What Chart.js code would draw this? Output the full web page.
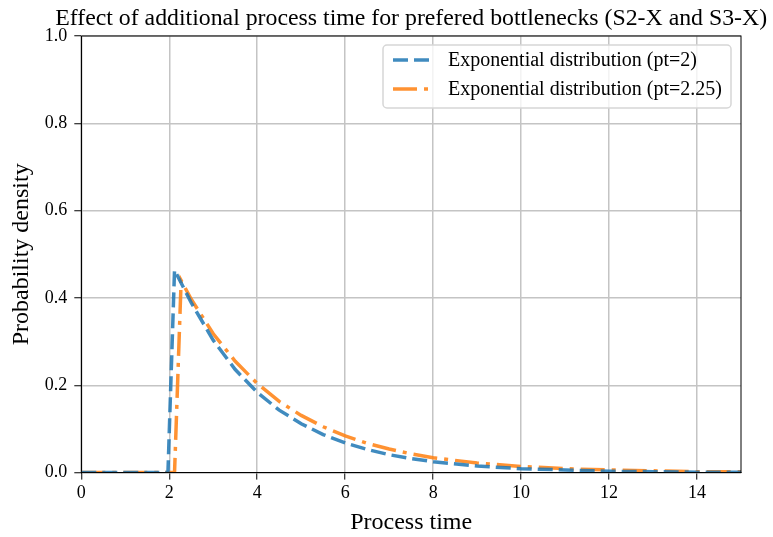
<!DOCTYPE html>
<html>
<head>
<meta charset="utf-8">
<script src="https://cdn.jsdelivr.net/npm/chart.js@4"></script>
<style>
  html, body { margin: 0; padding: 0; background: #fff; }
  #wrap { width: 773px; height: 537px; position: relative; }
</style>
</head>
<body>
<div id="wrap"><canvas id="myChart"></canvas></div>
<script>
// values
const titleText = 'Effect of additional process time for prefered bottlenecks (S2-X and S3-X)';
const seriesNames = ['Exponential distribution (pt=2)', 'Exponential distribution (pt=2.25)'];

const xPt2 = [0, 1.97, 2.12, 2.5, 3, 3.5, 4, 4.5, 5, 5.5, 6, 6.5, 7, 7.5, 8, 9, 10, 11, 12, 13, 14, 15];
const yPt2 = [0, 0, 0.464, 0.389, 0.303, 0.236, 0.184, 0.143, 0.112, 0.087, 0.068, 0.053, 0.041, 0.032, 0.025, 0.015, 0.009, 0.006, 0.003, 0.002, 0.001, 0.001];

const xPt225 = [0, 2.12, 2.27, 2.5, 3, 3.5, 4, 4.5, 5, 5.5, 6, 6.5, 7, 7.5, 8, 9, 10, 11, 12, 13, 14, 15];
const yPt225 = [0, 0, 0.440, 0.397, 0.318, 0.255, 0.204, 0.163, 0.131, 0.105, 0.084, 0.067, 0.054, 0.043, 0.034, 0.022, 0.014, 0.009, 0.006, 0.004, 0.002, 0.002];

const xTicks = [0, 2, 4, 6, 8, 10, 12, 14];

const ctx = document.getElementById('myChart').getContext('2d');
const serif = "'Liberation Serif', 'DejaVu Serif', serif";
const gridColor = '#c4c4c4';

function toPoints(xs, ys) {
    return xs.map((x, i) => ({ x: x, y: ys[i] }));
}

// title centred over the plot area, frame and legend box inside the plot
const decorations = {
    id: 'decorations',
    afterDraw(chart) {
        const a = chart.chartArea;
        const c = chart.ctx;
        c.save();
        // frame
        c.strokeStyle = '#000';
        c.lineWidth = 1;
        c.strokeRect(a.left, a.top, a.right - a.left, a.bottom - a.top);
        // title
        c.fillStyle = '#000';
        c.font = '23.8px ' + serif;
        c.textAlign = 'center';
        c.textBaseline = 'alphabetic';
        c.fillText(titleText, (a.left + a.right) / 2, 25);
        // legend
        const bx = 383, by = 45, bw = 348, bh = 63;
        c.fillStyle = 'rgba(255,255,255,0.8)';
        c.strokeStyle = '#d6d6d6';
        c.lineWidth = 1.5;
        c.beginPath();
        c.roundRect(bx, by, bw, bh, 4);
        c.fill();
        c.stroke();
        chart.data.datasets.forEach((ds, i) => {
            const yy = by + 15 + i * 29;
            c.strokeStyle = ds.borderColor;
            c.lineWidth = ds.borderWidth;
            c.setLineDash(ds.borderDash);
            c.beginPath();
            c.moveTo(bx + 10, yy);
            c.lineTo(bx + 46, yy);
            c.stroke();
            c.setLineDash([]);
            c.fillStyle = '#000';
            c.font = '20px ' + serif;
            c.textAlign = 'left';
            c.textBaseline = 'middle';
            c.fillText(seriesNames[i], bx + 65, yy + 1);
        });
        c.restore();
    }
};

const chart = new Chart(ctx, {
    type: 'line',
    data: {
        datasets: [{
            label: seriesNames[0],
            data: toPoints(xPt2, yPt2),
            borderColor: 'rgba(31, 119, 180, 0.85)',
            borderWidth: 3.5,
            borderDash: [15, 6],
            pointRadius: 0,
            fill: false,
            tension: 0,
        }, {
            label: seriesNames[1],
            data: toPoints(xPt225, yPt225),
            borderColor: 'rgba(255, 127, 14, 0.85)',
            borderWidth: 3.5,
            borderDash: [24, 7, 4, 7],
            pointRadius: 0,
            fill: false,
            tension: 0,
        }],
    },
    options: {
        responsive: true,
        maintainAspectRatio: false,
        animation: false,
        devicePixelRatio: 1,
        layout: {
            padding: { top: 36, right: 32, left: 7, bottom: 0 },
        },
        scales: {
            x: {
                type: 'linear',
                min: 0,
                max: 15,
                afterBuildTicks: (scale) => {
                    scale.ticks = xTicks.map(v => ({ value: v }));
                },
                grid: {
                    color: gridColor,
                    lineWidth: 1.5,
                    tickColor: '#000',
                    tickWidth: 1,
                    tickLength: 7,
                },
                border: { color: '#000', width: 1 },
                ticks: {
                    color: '#000',
                    font: { family: serif, size: 18 },
                    padding: 3,
                    maxRotation: 0,
                },
                title: {
                    display: true,
                    text: 'Process time',
                    color: '#000',
                    font: { family: serif, size: 24 },
                    padding: { top: 1, bottom: 0 },
                },
            },
            y: {
                min: 0,
                max: 1.0,
                ticks: {
                    stepSize: 0.2,
                    color: '#000',
                    font: { family: serif, size: 18 },
                    padding: 7,
                    callback: (v) => v.toFixed(1),
                },
                grid: {
                    color: gridColor,
                    lineWidth: 1.5,
                    tickColor: '#000',
                    tickWidth: 1,
                    tickLength: 7,
                },
                border: { color: '#000', width: 1 },
                title: {
                    display: true,
                    text: 'Probability density',
                    color: '#000',
                    font: { family: serif, size: 24 },
                    padding: { top: 0, bottom: 2 },
                },
            },
        },
        plugins: {
            legend: { display: false },
            title: { display: false },
            tooltip: { enabled: false },
        },
    },
    plugins: [decorations],
});
</script>
</body>
</html>
